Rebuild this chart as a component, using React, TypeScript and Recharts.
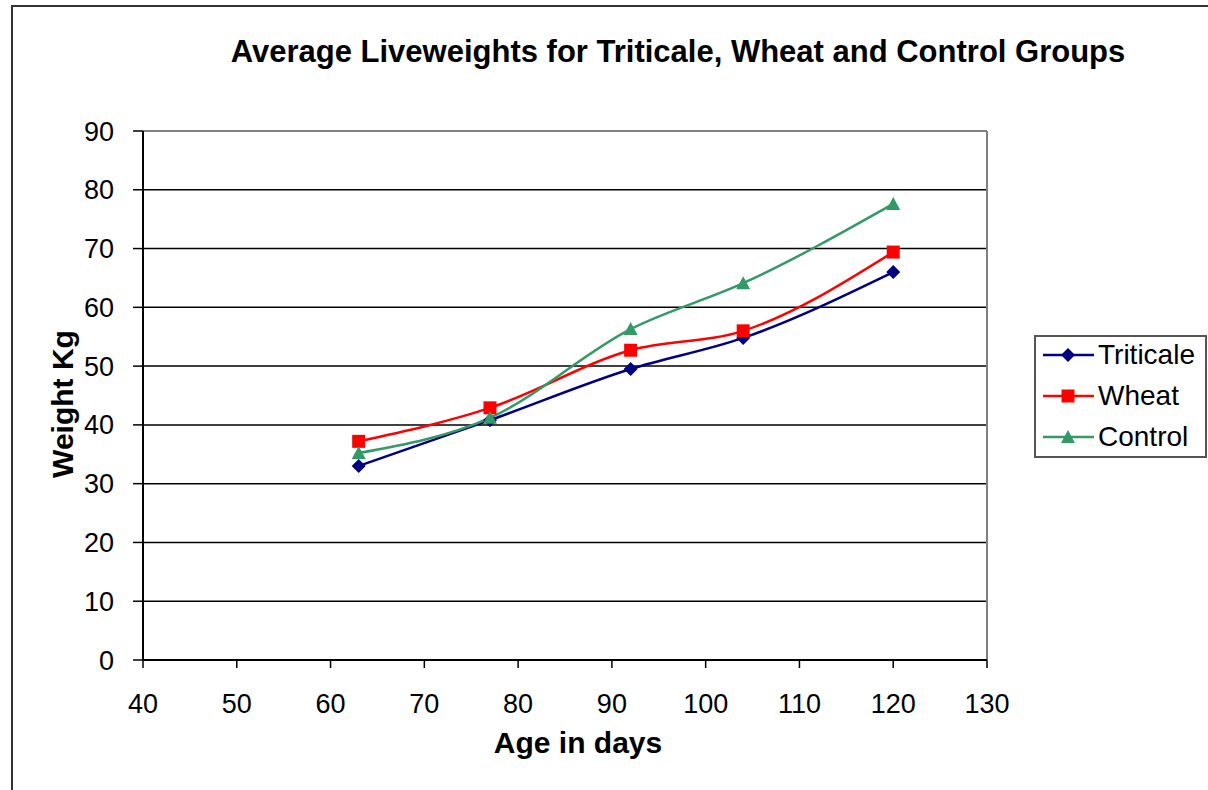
import { LineChart, Line, XAxis, YAxis, CartesianGrid, ReferenceLine } from "recharts";

const ages = [63, 77, 92, 104, 120];
const triticale = [33.0, 40.8, 49.5, 54.8, 66.0];
const wheat = [37.2, 42.9, 52.7, 56.0, 69.4];
const control = [35.2, 41.2, 56.3, 64.1, 77.6];

const xTicks = [40, 50, 60, 70, 80, 90, 100, 110, 120, 130];
const yTicks = [0, 10, 20, 30, 40, 50, 60, 70, 80, 90];

const seriesNames = ["Triticale", "Wheat", "Control"];
const seriesColors = ["#000080", "#FF0000", "#339966"];

const data = ages.map((age, i) => ({
  age,
  triticale: triticale[i],
  wheat: wheat[i],
  control: control[i],
}));

const FONT = '"Liberation Sans", Arial, sans-serif';

const Marker = ({ kind, cx, cy, color }: { kind: number; cx: number; cy: number; color: string }) => {
  if (kind === 0) {
    const r = 7;
    return <polygon points={`${cx},${cy - r} ${cx + r},${cy} ${cx},${cy + r} ${cx - r},${cy}`} fill={color} />;
  }
  if (kind === 1) {
    return <rect x={cx - 6.5} y={cy - 6.5} width={13} height={13} fill={color} />;
  }
  return <polygon points={`${cx},${cy - 7} ${cx + 7},${cy + 6} ${cx - 7},${cy + 6}`} fill={color} />;
};

const makeDot = (kind: number) => (props: any) => (
  <Marker key={`dot-${kind}-${props.index}`} kind={kind} cx={props.cx} cy={props.cy} color={seriesColors[kind]} />
);

const tickStyle = { fontSize: 27, fill: "#000", fontFamily: FONT };

const App = () => {
  return (
    <div
      style={{
        position: "absolute",
        left: 0,
        top: 0,
        width: 1208,
        height: 790,
        overflow: "hidden",
        background: "#fff",
        fontFamily: FONT,
      }}
    >
      <div
        style={{
          position: "absolute",
          left: 11,
          top: 5,
          width: 1300,
          height: 900,
          border: "2px solid #333",
        }}
      />
      <div
        style={{
          position: "absolute",
          left: 0,
          top: 32,
          width: 1356,
          textAlign: "center",
          fontSize: 31,
          fontWeight: "bold",
          lineHeight: "40px",
        }}
      >
        Average Liveweights for Triticale, Wheat and Control Groups
      </div>
      <LineChart
        width={1208}
        height={790}
        data={data}
        margin={{ top: 131, right: 221, left: 83, bottom: 90 }}
        style={{ position: "absolute", left: 0, top: 0 }}
      >
        <CartesianGrid vertical={false} stroke="#000" strokeWidth={1.5} />
        <XAxis
          dataKey="age"
          type="number"
          domain={[40, 130]}
          ticks={xTicks}
          interval={0}
          height={40}
          tick={tickStyle}
          tickSize={8}
          tickMargin={26}
          axisLine={{ stroke: "#000", strokeWidth: 2 }}
          tickLine={{ stroke: "#000", strokeWidth: 1.5 }}
        />
        <YAxis
          type="number"
          domain={[0, 90]}
          ticks={yTicks}
          interval={0}
          width={60}
          tick={tickStyle}
          tickSize={10}
          tickMargin={19}
          axisLine={{ stroke: "#000", strokeWidth: 2 }}
          tickLine={{ stroke: "#000", strokeWidth: 1.5 }}
        />
        <ReferenceLine y={90} stroke="#808080" strokeWidth={2} />
        <ReferenceLine x={130} stroke="#808080" strokeWidth={2} />
        <Line
          type="monotone"
          dataKey="triticale"
          name="Triticale"
          stroke={seriesColors[0]}
          strokeWidth={2.5}
          dot={makeDot(0)}
          isAnimationActive={false}
        />
        <Line
          type="monotone"
          dataKey="wheat"
          name="Wheat"
          stroke={seriesColors[1]}
          strokeWidth={2.5}
          dot={makeDot(1)}
          isAnimationActive={false}
        />
        <Line
          type="monotone"
          dataKey="control"
          name="Control"
          stroke={seriesColors[2]}
          strokeWidth={2.5}
          dot={makeDot(2)}
          isAnimationActive={false}
        />
      </LineChart>
      <div
        style={{
          position: "absolute",
          left: 63,
          top: 404,
          width: 0,
          height: 0,
        }}
      >
        <div
          style={{
            position: "absolute",
            left: 0,
            top: 0,
            transform: "translate(-50%, -50%) rotate(-90deg)",
            fontSize: 30,
            fontWeight: "bold",
            whiteSpace: "nowrap",
            lineHeight: "36px",
          }}
        >
          Weight Kg
        </div>
      </div>
      <div
        style={{
          position: "absolute",
          left: 378,
          top: 724,
          width: 400,
          textAlign: "center",
          fontSize: 30,
          fontWeight: "bold",
          lineHeight: "38px",
        }}
      >
        Age in days
      </div>
      <div
        style={{
          position: "absolute",
          left: 1034,
          top: 335,
          width: 169,
          height: 119,
          border: "2px solid #555",
        }}
      >
        {seriesNames.map((name, i) => (
          <div key={name} style={{ position: "absolute", left: 0, top: 0 + i * 41, height: 36, display: "flex", alignItems: "center" }}>
            <svg width={62} height={36}>
              <line x1={7} y1={18} x2={58} y2={18} stroke={seriesColors[i]} strokeWidth={2.5} />
              <Marker kind={i} cx={32} cy={18} color={seriesColors[i]} />
            </svg>
            <span style={{ fontSize: 28, whiteSpace: "nowrap" }}>{name}</span>
          </div>
        ))}
      </div>
    </div>
  );
};

export default App;
